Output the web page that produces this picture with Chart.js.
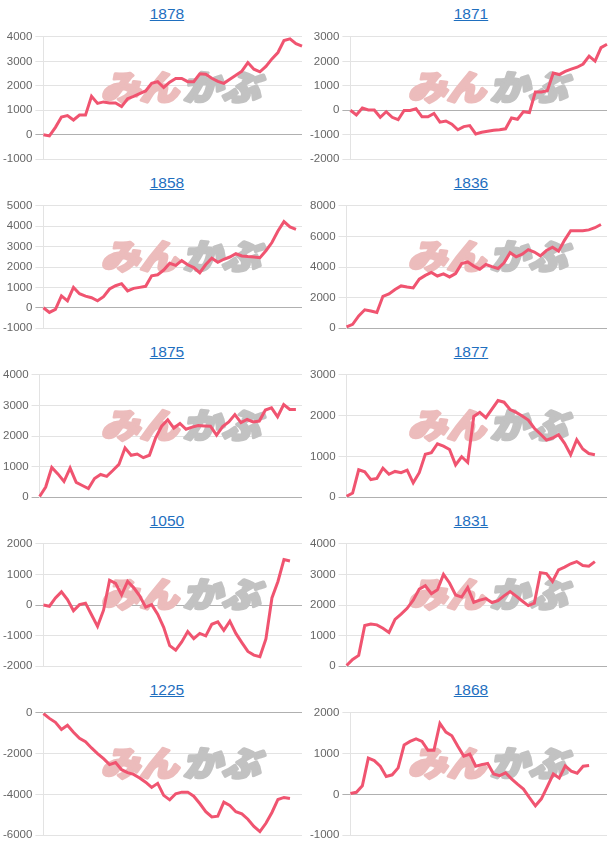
<!DOCTYPE html>
<html>
<head>
<meta charset="utf-8">
<script src="https://cdn.jsdelivr.net/npm/chart.js@4"></script>
<style>
body { margin:0; background:#fff; }
#wrap { position:relative; width:610px; height:850px; }
.cell { position:absolute; height:169px; }
.cell canvas { position:absolute; left:0; top:27px; }
.ttl { position:absolute; top:5px; width:100px; text-align:center; font:15.5px "Liberation Sans", Arial, sans-serif; line-height:18px; color:#1f6fbf; text-decoration:underline; }
</style>
</head>
<body>
<div id="wrap"></div>
<script>
// codes (titles)
var codes = ["1878", "1871", "1858", "1836", "1875", "1877", "1050", "1831", "1225", "1868"];

// x labels (hidden)
var days = Array.from({length: 44}, function(_, i) { return String(i + 1); });

// series
var s1878 = [0,-50,300,720,780,600,800,800,1570,1280,1340,1300,1300,1150,1470,1570,1680,1790,2100,2170,1930,2150,2300,2300,2170,2170,2490,2470,2310,2180,2100,2270,2430,2600,2950,2680,2570,2790,3100,3360,3850,3920,3720,3620];
var s1871 = [0,-190,90,10,10,-290,-60,-290,-390,-10,-10,60,-270,-270,-130,-490,-440,-570,-800,-670,-630,-970,-900,-860,-820,-800,-760,-320,-370,-60,-100,750,750,800,1520,1460,1590,1680,1760,1890,2210,2010,2560,2700];
var s1858 = [0,-230,-80,580,340,1000,690,570,490,340,540,920,1080,1180,830,950,1000,1050,1570,1620,1850,2180,2080,2310,2110,1970,1720,2120,2430,2230,2380,2490,2650,2540,2510,2490,2460,2800,3200,3770,4230,3970,3850];
var s1836 = [80,250,800,1200,1120,1020,2080,2240,2530,2760,2690,2630,3200,3450,3650,3410,3550,3350,3570,4220,4330,4060,3860,4160,4020,3900,4270,4940,4670,4840,5140,4980,4730,5080,5290,5040,5760,6370,6370,6370,6430,6570,6780];
var s1875 = [20,330,970,760,510,950,480,380,280,610,740,680,870,1070,1610,1370,1410,1290,1370,1930,2320,2530,2260,2410,2220,2290,2340,2330,2320,2030,2310,2460,2700,2440,2540,2460,2490,2850,2920,2630,3030,2870,2870];
var s1877 = [20,100,670,620,430,460,710,560,630,600,660,350,600,1050,1090,1310,1250,1170,790,990,850,1980,2080,1950,2160,2370,2330,2150,2080,1990,1890,1690,1550,1400,1450,1530,1320,1040,1410,1180,1070,1040];
var s1050 = [0,-40,230,430,180,-190,10,60,-320,-700,-170,810,710,330,770,570,300,-70,10,-300,-730,-1330,-1480,-1210,-870,-1100,-930,-1010,-630,-550,-830,-530,-930,-1230,-1520,-1640,-1690,-1110,230,770,1490,1440];
var s1831 = [20,220,350,1330,1380,1350,1240,1100,1530,1700,1890,2160,2520,2630,2370,2500,3000,2720,2330,2260,2570,2090,2160,2210,2080,2140,2300,2440,2290,2130,1980,2060,3060,3030,2770,3150,3240,3350,3420,3290,3270,3420];
var s1225 = [-30,-270,-460,-810,-610,-950,-1250,-1420,-1720,-2000,-2250,-2540,-2440,-2790,-2930,-3020,-3200,-3400,-3660,-3460,-4050,-4270,-3970,-3890,-3890,-4090,-4450,-4850,-5110,-5070,-4380,-4550,-4850,-4960,-5220,-5570,-5830,-5420,-4890,-4250,-4150,-4200];
var s1868 = [20,50,210,890,830,690,440,480,650,1210,1300,1360,1300,1080,1080,1740,1530,1440,1180,940,990,690,730,760,500,460,530,380,250,130,-80,-280,-110,190,500,400,700,570,520,690,710];

var series = [s1878, s1871, s1858, s1836, s1875, s1877, s1050, s1831, s1225, s1868];

// y axis ranges
var yMin  = [-1000, -2000, -1000,    0,    0,    0, -2000,    0, -6000, -1000];
var yMax  = [ 4000,  3000,  5000, 8000, 4000, 3000,  2000, 4000,     0,  2000];
var yStep = [ 1000,  1000,  1000, 2000, 1000, 1000,  1000, 1000,  2000,  1000];

// watermark "みんかぶ" drawn behind the line
var watermark = {
    id: 'watermark',
    beforeDatasetsDraw: function(chart) {
	var ctx = chart.ctx;
	ctx.save();
	ctx.font = '900 34px "Noto Sans CJK JP"';
	ctx.textBaseline = 'middle';
	ctx.lineJoin = 'round';
	ctx.lineWidth = 3;
	ctx.translate(104, 60);
	ctx.transform(1.14, 0, -0.24, 1, 0, 0);
	ctx.fillStyle = ctx.strokeStyle = '#ecbcbc';
	ctx.fillText('みん', 0, 0);
	ctx.strokeText('みん', 0, 0);
	ctx.fillStyle = ctx.strokeStyle = '#c2c2c2';
	ctx.fillText('かぶ', 72, 0);
	ctx.strokeText('かぶ', 72, 0);
	ctx.restore();
    }
};

var wrap = document.getElementById('wrap');

window.onload = function() {
    for (var i = 0; i < codes.length; i++) {
	var col = i % 2, row = Math.floor(i / 2);
	var w = col == 0 ? 305 : 303;

	var cell = document.createElement('div');
	cell.className = 'cell';
	cell.style.left = (col == 0 ? 0 : 307) + 'px';
	cell.style.top = (row * 169) + 'px';
	cell.style.width = w + 'px';

	var a = document.createElement('a');
	a.className = 'ttl';
	a.href = '#';
	a.textContent = codes[i];
	a.style.left = (col == 0 ? 117 : 114) + 'px';
	cell.appendChild(a);

	var cv = document.createElement('canvas');
	cv.width = w;
	cv.height = 142;
	cell.appendChild(cv);
	wrap.appendChild(cell);

	new Chart(cv.getContext('2d'), {
	    type: 'line',
	    data: {
		labels: days,
		datasets: [{
		    data: series[i],
		    borderColor: 'rgb(240, 84, 112)',
		    borderWidth: 3,
		    pointRadius: 0,
		    fill: false,
		    tension: 0
		}]
	    },
	    options: {
		responsive: false,
		animation: false,
		layout: { padding: { right: 3 } },
		plugins: {
		    legend: { display: false },
		    tooltip: { enabled: false },
		    title: { display: false }
		},
		scales: {
		    x: { display: false },
		    y: {
			min: yMin[i],
			max: yMax[i],
			border: { color: '#e3e3e3' },
			grid: {
			    color: function(c) { return c.tick && c.tick.value === 0 ? '#b0b0b0' : '#e3e3e3'; },
			    tickLength: 8
			},
			ticks: {
			    stepSize: yStep[i],
			    color: '#666',
			    font: { family: '"Liberation Sans", Arial, sans-serif', size: 11.5 },
			    padding: 3,
			    callback: function(v) { return String(v); }
			}
		    }
		}
	    },
	    plugins: [watermark]
	});
    }
};
</script>
</body>
</html>
